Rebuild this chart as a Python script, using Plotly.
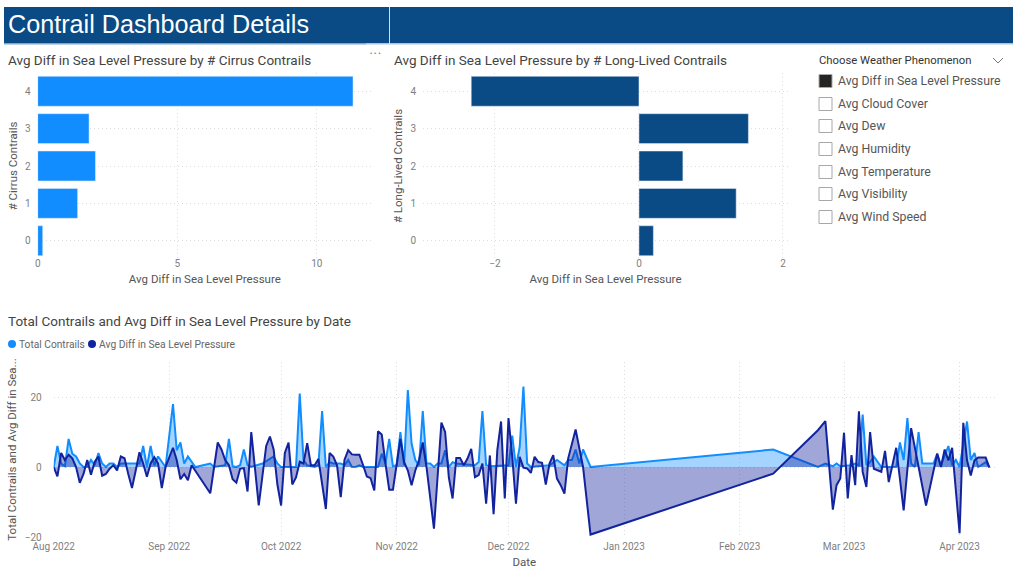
import pandas as pd
import plotly.graph_objects as go

W, H = 1018, 585
TITLE = "Contrail Dashboard Details"
CATS = [0, 1, 2, 3, 4]
CIRRUS = [0.18, 1.43, 2.07, 1.84, 11.3]
LONG_LIVED = [0.2, 1.35, 0.61, 1.52, -2.33]
OPTIONS = ["Avg Diff in Sea Level Pressure", "Avg Cloud Cover", "Avg Dew", "Avg Humidity",
           "Avg Temperature", "Avg Visibility", "Avg Wind Speed"]
START = "2022-08-01"

LIGHT_DAYS = [0,1,2,3,4,5,6,7,8,9,10,11,12,13,14,15,16,17,18,19,20,21,22,23,24,25,26,27,28,29,30,32,33,34,35,36,37,38,
              42,43,46,47,48,49,50,51,52,53,56,59,60,61,65,66,67,68,70,71,72,73,74,75,76,
              77,78,79,80,81,82,83,87,88,89,90,91,92,93,94,95,96,97,98,99,100,101,102,103,104,105,106,107,108,
              113,114,115,116,117,122,123,124,125,126,127,128,133,135,137,138,139,140,141,142,144,
              193,205,207,209,210,211,214,215,216,217,218,219,220,222,226,227,228,229,230,231,232,233,236,237,238,
              240,241,242,243,245,246,247,248,250,251]
LIGHT_VALS = [0,6,1,.2,8,3.8,3,1,0,0,2,.5,4,1,0,1,1,0,1,1,1,1,1,1,6,0,6,.5,3,1.4,0,18,4.8,7,1,3,1.4,0,
              1,0,.5,8,.2,0,.5,5,.5,0,1,3,1,0,0,21,2,.5,0,.5,16,0,1.4,1,1,
              1,.5,2,0,0,.5,0,0,3.8,1,8,.2,.5,10,.5,22,6.7,2,.5,16,1,1,0,1,1,4.8,0,1.4,1,
              .5,1.4,16,.5,.2,.5,9,0,5.7,23,1,0,.5,2,.5,2,2,5,1,5,0,
              5,0,1,.2,1,.2,.5,1,.5,15,.5,1.4,3,0,0,7,2,14,1,0,10,1,1,3.8,.5,
              6,.5,2,0,13,2,4,0,1.4,0]

DARK_DAYS = [0,1,2,3,4,5,6,7,8,9,10,11,12,13,14,15,16,17,18,19,20,21,22,23,24,25,26,27,28,29,30,32,33,34,35,36,37,
             42,44,45,46,47,48,49,50,51,52,53,55,57,58,59,60,61,62,63,64,65,66,67,68,69,70,71,73,74,75,76,77,
             78,79,80,81,82,83,84,85,86,87,88,89,90,91,93,94,95,96,97,98,99,100,101,102,104,105,106,107,108,109,110,
             111,112,113,114,115,116,117,118,119,120,121,122,123,124,125,126,127,128,129,130,131,132,133,134,135,136,
             137,138,140,142,144,
             193,205,207,209,210,211,212,213,214,215,216,217,218,219,220,222,223,224,226,228,230,234,237,238,239,
             240,241,243,244,245,246,247,248,250,251]
DARK_VALS = [0,-2.7,4,2,3.5,2.5,0,-4.5,-2,2,-2.2,1.5,3,-2.5,-2,-.5,.5,-1,3,2.5,-2,-6,-1,4.2,1,-2.8,1,2.8,1,-6,0,5.5,2,-3.5,-2,-3.8,.5,
             -7.5,7,5,2,.5,-3.5,-4.5,-.5,-.3,-7,10,-11,6,8.7,5,-5,-11,4,7,-5,-3,1.5,1,6.8,.5,.5,2.3,-12,4,3,.5,-8.6,
             2,4.8,3.6,3.5,3.5,.5,-2.7,-3.2,-6.7,10.2,9.3,1,-6.5,-6.5,8,1.4,-1,-5.2,-1,2,7,0,-8.5,-17.6,12.7,10,-3,-9,2.6,2.6,.5,
             2.4,5.2,-2.9,-2.3,1,-10.5,3.3,-13.5,4.8,13,-9,14,3,-10.5,2.9,-.2,-.4,-1.7,2.9,1.4,1.2,-5,1,3.4,-3.3,-5.2,
             -7.6,2.4,10.7,0,-19.3,
             -1.9,10.5,13.1,-12.2,-5.2,-3.3,9.8,-9,3.4,-5.2,15.9,-1.4,-5.7,10,-.5,-1.4,4.6,-4.3,5.5,-12.4,11.1,-11,3.8,0,5,
             1.9,5.5,-18.9,12.6,1.9,-2.4,1.9,2.7,2.7,-.2]

LIGHT_DATES = pd.Timestamp(START) + pd.to_timedelta(LIGHT_DAYS, unit="D")
DARK_DATES = pd.Timestamp(START) + pd.to_timedelta(DARK_DAYS, unit="D")

BLUE, NAVY, HEADER = "#118DFF", "#12239E", "#0A4A85"
GRID, TICK, AXT = "#dddddd", "#808080", "#555555"
FONT = "Roboto"

def px(x): return x / W
def py(y): return 1 - y / H

fig = go.Figure()
fig.add_bar(x=CIRRUS, y=CATS, orientation="h", marker_color=BLUE, xaxis="x", yaxis="y", showlegend=False)
fig.add_bar(x=LONG_LIVED, y=CATS, orientation="h", marker_color=HEADER, xaxis="x2", yaxis="y2", showlegend=False)
fig.add_scatter(x=LIGHT_DATES, y=LIGHT_VALS, mode="lines", name="Total Contrails", line=dict(color=BLUE, width=2),
                fill="tozeroy", fillcolor="rgba(17,141,255,0.38)", xaxis="x3", yaxis="y3", showlegend=False)
fig.add_scatter(x=DARK_DATES, y=DARK_VALS, mode="lines", name="Avg Diff in Sea Level Pressure", line=dict(color=NAVY, width=2),
                fill="tozeroy", fillcolor="rgba(18,35,158,0.4)", xaxis="x3", yaxis="y3", showlegend=False)

def ax(title, size=10, **kw):
    d = dict(showgrid=True, gridcolor=GRID, griddash="1px,3px", gridwidth=1, zeroline=False, showline=False, ticks="",
             automargin=False,
             tickfont=dict(family=FONT, size=size, color=TICK),
             title=dict(text=title, font=dict(family=FONT, size=11.5, color=AXT)))
    d.update(kw)
    return d

shapes, anns = [], []
def rect(x0, y0, x1, y1, **kw):
    shapes.append(dict(type="rect", xref="paper", yref="paper", x0=px(x0), x1=px(x1), y0=py(y0), y1=py(y1), layer="below", **kw))
def text(x, y, s, size, color="#444444", family=FONT):
    anns.append(dict(xref="paper", yref="paper", x=px(x), y=py(y), text=s, showarrow=False, xanchor="left", yanchor="middle",
                     font=dict(family=family, size=size, color=color)))

rect(4, 7, 1013, 43, fillcolor=HEADER, line_width=0)
rect(4, 43, 366, 44.5, fillcolor="#7fa8cf", line_width=0)
rect(366, 43, 1013, 44.5, fillcolor="#a9c6e0", line_width=0)
rect(389, 7, 390, 44, fillcolor="#cfe0ef", line_width=0)

text(6, 60, "Avg Diff in Sea Level Pressure by # Cirrus Contrails", 13.5)
text(392, 60, "Avg Diff in Sea Level Pressure by # Long-Lived Contrails", 13.5)
text(6, 321, "Total Contrails and Avg Diff in Sea Level Pressure by Date", 13.5)
text(368, 54, "• • •", 7, color="#777777")

text(17, 344, "Total Contrails", 10.2, color="#666666")
text(97, 344, "Avg Diff in Sea Level Pressure", 10.3, color="#666666")
for cx, col in [(12, BLUE), (92, NAVY)]:
    shapes.append(dict(type="circle", xref="paper", yref="paper", x0=px(cx - 4), x1=px(cx + 4), y0=py(348), y1=py(340),
                       fillcolor=col, line_width=0))

text(817, 61, "Choose Weather Phenomenon", 11.3, color="#333333")
shapes.append(dict(type="path", xref="paper", yref="paper", line=dict(color="#777777", width=1),
                   path=f"M {px(993)} {py(58)} L {px(998)} {py(63)} L {px(1003)} {py(58)}"))
OPTION_Y = [81, 104, 126, 149, 172, 194, 217]
for i, (label, y) in enumerate(zip(OPTIONS, OPTION_Y)):
    text(836, y, label, 12.3, color="#555555")
    shapes.append(dict(type="rect", xref="paper", yref="paper", x0=px(819), x1=px(832), y0=py(y - 6.5), y1=py(y + 6.5),
                       fillcolor="#252423" if i == 0 else "white", line=dict(color="#a8a8a8", width=1)))

fig.update_layout(
    width=W, height=H, margin=dict(l=0, r=0, t=0, b=0), paper_bgcolor="white", plot_bgcolor="white",
    bargap=0.2, shapes=shapes, annotations=anns,
    title=dict(text=TITLE, x=px(8), y=py(24.5), xref="paper", yref="paper", xanchor="left", yanchor="middle",
               font=dict(family="Liberation Sans", size=25.2, color="white")),
    xaxis=ax("Avg Diff in Sea Level Pressure", domain=[px(37.7), px(372)], range=[0, 11.98], tickvals=[0, 5, 10],
             anchor="y", ticklabelstandoff=-3),
    yaxis=ax("# Cirrus Contrails", domain=[py(259.4), py(72.6)], range=[-0.5, 4.5], tickvals=CATS, anchor="x",
             ticklabelstandoff=6),
    xaxis2=ax("Avg Diff in Sea Level Pressure", domain=[px(423), px(788)], range=[-3, 2.07], tickvals=[-2, 0, 2],
              anchor="y2", ticklabelstandoff=-3),
    yaxis2=ax("# Long-Lived Contrails", domain=[py(259.4), py(72.6)], range=[-0.5, 4.5], tickvals=CATS, anchor="x2",
              ticklabelstandoff=6),
    xaxis3=ax("Date", domain=[px(53.7), px(995)], range=[START, "2023-04-10 12:00"], dtick="M1", tick0=START,
              tickformat="%b %Y", anchor="y3", ticklabelstandoff=2),
    yaxis3=ax("Total Contrails and Avg Diff in Sea...", size=10, domain=[py(537), py(362)], range=[-20, 30],
              tickvals=[-20, 0, 20], anchor="x3", ticklabelstandoff=11),
)
fig.update_xaxes(title_standoff=6)
fig.update_yaxes(title_standoff=5)

fig.write_html("out.html", config=dict(displayModeBar=False),
               post_script="document.body.style.margin='0';document.body.style.overflow='hidden';")
